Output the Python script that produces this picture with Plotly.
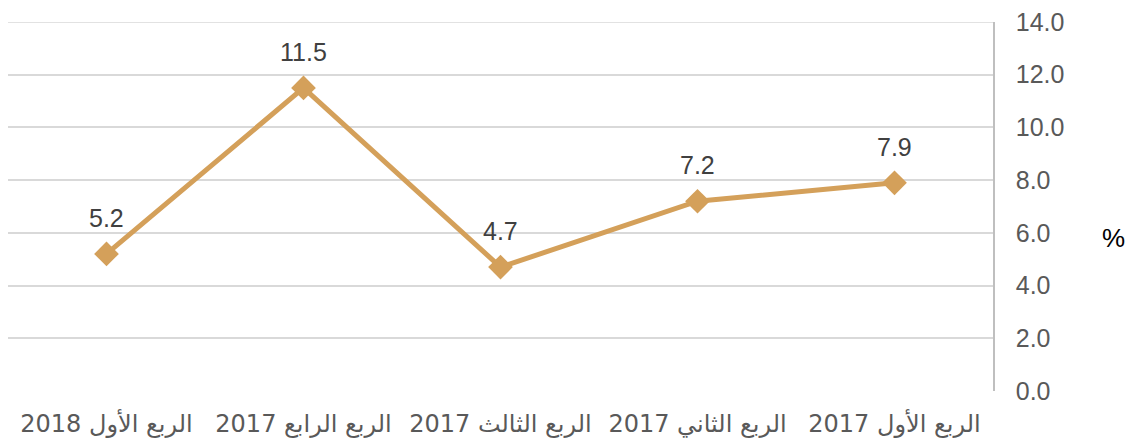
import plotly.graph_objects as go

categories = ["الربع الأول 2017", "الربع الثاني 2017", "الربع الثالث 2017", "الربع الرابع 2017", "الربع الأول 2018"]
values = [7.9, 7.2, 4.7, 11.5, 5.2]
y_ticks = [0, 2, 4, 6, 8, 10, 12, 14]
y_tick_labels = ["0.0", "2.0", "4.0", "6.0", "8.0", "10.0", "12.0", "14.0"]

line_color = "#D4A05A"
grid_color = "#D9D9D9"

fig = go.Figure()
fig.add_trace(go.Scatter(
    x=categories, y=values, mode="lines+markers",
    line=dict(color=line_color, width=5),
    marker=dict(symbol="diamond", size=19, color=line_color),
    hoverinfo="skip", showlegend=False,
))

for c, v in zip(categories, values):
    fig.add_annotation(x=c, y=v, text=f"{v:.1f}", showarrow=False, yshift=36,
                       font=dict(family="Liberation Sans, Arial", size=25, color="#404040"))

fig.add_annotation(xref="paper", yref="paper", x=1.1365, y=0.415, text="%", showarrow=False,
                   font=dict(family="Liberation Sans, Arial", size=26, color="#000000"))

# top gridline (plotly omits the grid line at the range edge)
fig.add_shape(type="line", xref="paper", yref="y", x0=0, x1=1, y0=max(y_ticks), y1=max(y_ticks),
              line=dict(color=grid_color, width=1.5), layer="below")

fig.update_layout(
    width=1137, height=435,
    margin=dict(l=0, r=152, t=11, b=52),
    paper_bgcolor="white", plot_bgcolor="white",
    xaxis=dict(
        type="category", autorange=False, range=[4.5, -0.5],
        showgrid=False, showline=False, zeroline=False, ticks="",
        tickfont=dict(family="DejaVu Sans", size=24, color="#595959"),
        ticklabelstandoff=16,
    ),
    yaxis=dict(
        side="right", range=[0, 14], tickvals=y_ticks, ticktext=y_tick_labels,
        showgrid=True, gridcolor=grid_color, gridwidth=1.5,
        showline=True, linecolor="#BFBFBF", linewidth=1.5,
        zeroline=False, ticks="",
        tickfont=dict(family="Liberation Sans, Arial", size=25, color="#595959"),
        ticklabelstandoff=16, ticklabeloverflow="allow",
    ),
)

fig.write_html("out.html")
